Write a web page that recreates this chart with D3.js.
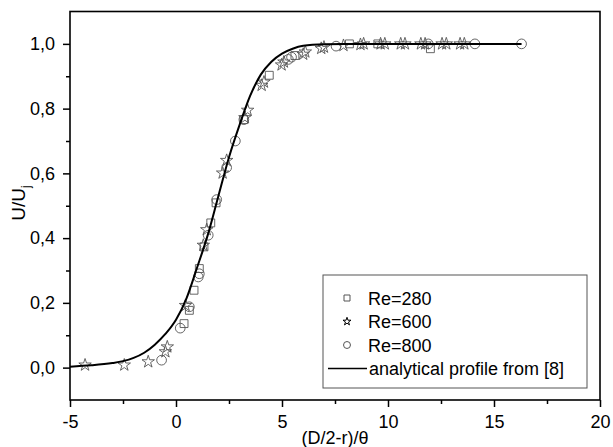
<!DOCTYPE html>
<html>
<head>
<meta charset="utf-8">
<script src="https://cdnjs.cloudflare.com/ajax/libs/d3/7.8.5/d3.min.js"></script>
<style>
  body { margin: 0; background: #fff; }
  svg { display: block; font-family: "Liberation Sans", Arial, sans-serif; }
</style>
</head>
<body>
<svg id="chart"></svg>
<script>
// data
var re280X = [0.38, 0.63, 0.85, 1.10, 1.32, 1.64, 1.89, 3.20, 4.40, 5.61, 8.18, 9.52, 12.0];
var re280Y = [0.136, 0.177, 0.239, 0.306, 0.373, 0.447, 0.509, 0.766, 0.903, 0.964, 1.0, 1.0, 0.985];

var re600X = [-4.29, -2.44, -1.31, -0.50, -0.41, 0.45, 1.29, 1.45, 2.20, 2.39, 3.25, 3.38, 4.04, 4.15, 4.98, 5.09, 6.0, 6.1, 6.85, 6.98, 7.9, 8.7, 8.85, 9.65, 9.85, 10.6, 10.8, 11.55, 11.75, 12.55, 12.75, 13.4, 13.6];
var re600Y = [0.008, 0.008, 0.018, 0.049, 0.064, 0.192, 0.378, 0.426, 0.601, 0.64, 0.772, 0.795, 0.872, 0.882, 0.935, 0.944, 0.968, 0.975, 0.986, 0.99, 0.995, 0.998, 1.0, 1.0, 1.0, 1.0, 1.0, 1.0, 1.0, 1.0, 1.0, 1.0, 1.0];

var re800X = [-0.68, 0.20, 0.63, 1.05, 1.10, 1.52, 1.92, 2.39, 2.80, 3.20, 5.30, 5.45, 7.55, 11.9, 14.1, 16.3];
var re800Y = [0.023, 0.122, 0.188, 0.28, 0.29, 0.409, 0.519, 0.618, 0.70, 0.766, 0.952, 0.959, 0.993, 1.0, 1.0, 1.0];

var profileX = [-5, -4, -3, -2.5, -2, -1.5, -1, -0.5, 0, 0.5, 1, 1.5, 2, 2.5, 3, 3.5, 4, 4.5, 5, 5.5, 6, 7, 8, 16.3];
var profileY = [0.003, 0.007, 0.014, 0.02, 0.03, 0.046, 0.071, 0.104, 0.148, 0.215, 0.31, 0.41, 0.53, 0.65, 0.75, 0.84, 0.905, 0.945, 0.97, 0.985, 0.994, 0.999, 1.0, 1.0];

var xTicks = [-5, 0, 5, 10, 15, 20];
var xMinor = [-2.5, 2.5, 7.5, 12.5, 17.5];
var yTicks = [0, 0.2, 0.4, 0.6, 0.8, 1.0];
var yMinor = [0.1, 0.3, 0.5, 0.7, 0.9];

var legendLabels = ["Re=280", "Re=600", "Re=800", "analytical profile from [8]"];

var svgWidth = 613;
var svgHeight = 447;
// plot box (don't call it "top", that is window.top)
var padL = 70, padR = 600, padT = 11.5, padB = 400;

var svg = d3.select("#chart")
  .attr("width", svgWidth)
  .attr("height", svgHeight);

var xScale = d3.scaleLinear().domain([-5, 20]).range([padL, padR]);
var yScale = d3.scaleLinear().domain([-0.1, 1.1]).range([padB, padT]);

// comma decimal, plain hyphen minus
var locale = d3.formatLocale({ decimal: ",", thousands: ".", grouping: [3], currency: ["", ""], minus: "-" });
var yFmt = locale.format(".1f");
var xFmt = locale.format("d");

var markColor = "#555";
var fontFam = "Liberation Sans, Arial, sans-serif";

// minor ticks
svg.append("g")
  .attr("transform", "translate(0," + padB + ")")
  .call(d3.axisBottom(xScale).tickValues(xMinor).tickSize(4).tickFormat(""))
  .call(function(g) { g.select(".domain").remove(); })
  .selectAll("line").attr("stroke-width", 1.5);

svg.append("g")
  .attr("transform", "translate(" + padL + ",0)")
  .call(d3.axisLeft(yScale).tickValues(yMinor).tickSize(4).tickFormat(""))
  .call(function(g) { g.select(".domain").remove(); })
  .selectAll("line").attr("stroke-width", 1.5);

var xAxis = svg.append("g")
  .attr("transform", "translate(0," + padB + ")")
  .call(d3.axisBottom(xScale).tickValues(xTicks).tickSize(7).tickSizeOuter(0).tickPadding(8).tickFormat(xFmt));
xAxis.select(".domain").remove();
xAxis.selectAll("line").attr("stroke-width", 1.5);
xAxis.selectAll("text").attr("font-size", 18).attr("fill", "#000").attr("font-family", fontFam);

var yAxis = svg.append("g")
  .attr("transform", "translate(" + padL + ",0)")
  .call(d3.axisLeft(yScale).tickValues(yTicks).tickSize(7).tickSizeOuter(0).tickPadding(8).tickFormat(yFmt));
yAxis.select(".domain").remove();
yAxis.selectAll("line").attr("stroke-width", 1.5);
yAxis.selectAll("text").attr("font-size", 18).attr("fill", "#000").attr("font-family", fontFam);

// frame
svg.append("rect")
  .attr("x", padL).attr("y", padT)
  .attr("width", padR - padL).attr("height", padB - padT)
  .attr("fill", "none").attr("stroke", "#000").attr("stroke-width", 1.6);

// axis titles
svg.append("text")
  .attr("x", (padL + padR) / 2).attr("y", 444)
  .attr("text-anchor", "middle").attr("font-size", 18)
  .text("(D/2-r)/θ");

var yLab = svg.append("text")
  .attr("transform", "translate(25,203) rotate(-90)")
  .attr("text-anchor", "middle").attr("font-size", 19);
yLab.append("tspan").text("U/U");
yLab.append("tspan").attr("font-size", 12).attr("dy", 5).text("j");

// symbols
var squareSym = d3.symbol().type(d3.symbolSquare).size(62);
var starSym = d3.symbol().type(d3.symbolStar).size(48);
var circleSym = d3.symbol().type(d3.symbolCircle).size(74);

function drawSeries(xs, ys, sym) {
  svg.append("g").selectAll("path")
    .data(d3.zip(xs, ys))
    .enter()
    .append("path")
    .attr("d", sym)
    .attr("transform", function(d) { return "translate(" + xScale(d[0]) + "," + yScale(d[1]) + ")"; })
    .attr("fill", "none")
    .attr("stroke", markColor)
    .attr("stroke-width", 0.9);
}

drawSeries(re280X, re280Y, squareSym);
drawSeries(re600X, re600Y, starSym);
drawSeries(re800X, re800Y, circleSym);

// analytical curve
var line = d3.line()
  .x(function(d) { return xScale(d[0]); })
  .y(function(d) { return yScale(d[1]); })
  .curve(d3.curveMonotoneX);

svg.append("path")
  .datum(d3.zip(profileX, profileY))
  .attr("d", line)
  .attr("fill", "none")
  .attr("stroke", "#000")
  .attr("stroke-width", 2);

// legend
var lg = svg.append("g").attr("transform", "translate(323,275)");
lg.append("rect")
  .attr("width", 264).attr("height", 113)
  .attr("fill", "#fff").attr("stroke", "#555").attr("stroke-width", 1);

var legendSyms = [
  d3.symbol().type(d3.symbolSquare).size(36),
  d3.symbol().type(d3.symbolStar).size(20),
  d3.symbol().type(d3.symbolCircle).size(38)
];
legendSyms.forEach(function(s, i) {
  lg.append("path")
    .attr("d", s)
    .attr("transform", "translate(24," + (23 + i * 23.5) + ")")
    .attr("fill", "none").attr("stroke", i == 1 ? "#000" : markColor).attr("stroke-width", 1);
});
lg.append("line")
  .attr("x1", 5).attr("x2", 44)
  .attr("y1", 93.5).attr("y2", 93.5)
  .attr("stroke", "#000").attr("stroke-width", 1.3);

lg.selectAll("text.lab")
  .data(legendLabels)
  .enter()
  .append("text")
  .attr("class", "lab")
  .attr("x", function(d, i) { return i < 3 ? 45 : 46; })
  .attr("y", function(d, i) { return 29.5 + i * 23.5; })
  .attr("font-size", 18)
  .text(function(d) { return d; });
</script>
</body>
</html>
